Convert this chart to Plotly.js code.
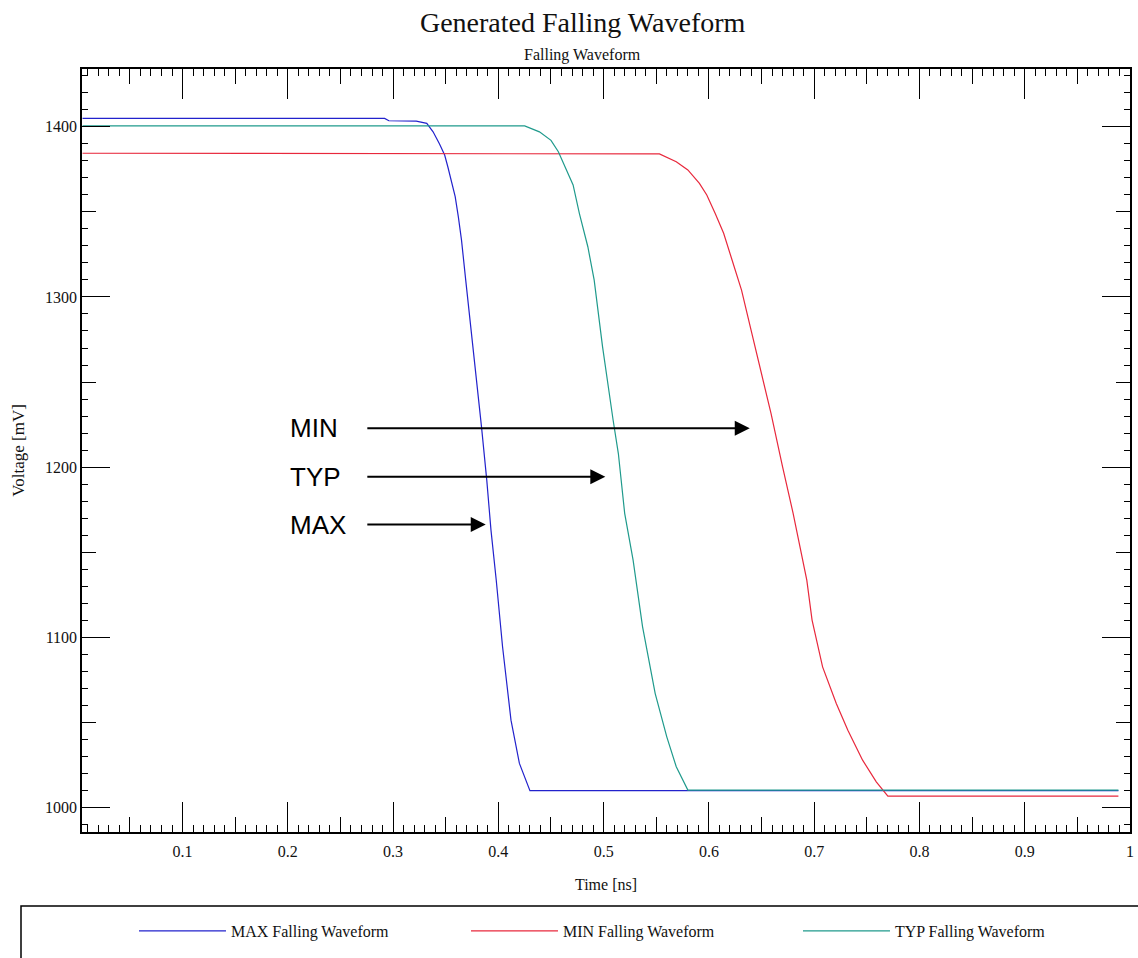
<!DOCTYPE html>
<html>
<head>
<meta charset="utf-8">
<script src="https://cdn.plot.ly/plotly-3.0.1.min.js"></script>
<style>html,body{margin:0;padding:0;background:#fff;}#chart{width:1138px;height:958px;}</style>
</head>
<body>
<div id="chart"></div>
<script>
// Time [ns] and Voltage [mV]
const maxTime = [0.005, 0.292, 0.296, 0.322, 0.332, 0.338, 0.344, 0.349, 0.352, 0.355, 0.359, 0.362, 0.365, 0.369, 0.376, 0.384, 0.389, 0.393, 0.398, 0.404, 0.412, 0.420, 0.430, 0.989];
const maxVolt = [1404.9, 1404.9, 1403.5, 1403.3, 1402, 1397, 1390, 1383.4, 1376.5, 1368.7, 1358.9, 1347, 1333.4, 1309.9, 1270.7, 1223.7, 1192.4, 1163, 1133.6, 1094.5, 1051.4, 1026, 1010, 1010];

const minTime = [0.005, 0.544, 0.553, 0.569, 0.580, 0.591, 0.598, 0.606, 0.614, 0.622, 0.631, 0.640, 0.650, 0.659, 0.670, 0.680, 0.693, 0.698, 0.708, 0.721, 0.732, 0.746, 0.759, 0.770, 0.989];
const minVolt = [1384.4, 1384.4, 1384, 1379.4, 1374.6, 1366.7, 1359.9, 1349, 1337.4, 1321.7, 1304, 1280.6, 1255, 1231.6, 1200.2, 1172.9, 1133.7, 1110.2, 1082.7, 1061.2, 1045.5, 1027.9, 1015.2, 1006.8, 1006.8];

const typTime = [0.005, 0.425, 0.439, 0.450, 0.457, 0.465, 0.471, 0.477, 0.485, 0.491, 0.499, 0.509, 0.514, 0.520, 0.528, 0.537, 0.549, 0.560, 0.569, 0.580, 0.989];
const typVolt = [1400.5, 1400.5, 1397, 1392, 1385.3, 1374.6, 1365.8, 1349, 1329.5, 1310, 1270.7, 1227.7, 1208, 1172.9, 1145.4, 1106.2, 1067, 1041.6, 1024, 1010.3, 1010.3];

const seriesNames = ['MAX Falling Waveform', 'MIN Falling Waveform', 'TYP Falling Waveform'];
const seriesColors = ['#2222cc', '#e8283c', '#1f9a8c'];

// Annotation labels with arrows
const markLabels = ['MIN', 'TYP', 'MAX'];
const markY = [1222.9, 1194.4, 1166.3];
const markTipX = [0.6388, 0.5016, 0.3880];
const markTailX = 0.2741;
const markTextX = 0.2005;

const serif = 'Liberation Serif, Times New Roman, serif';

const traces = [
  {x: maxTime, y: maxVolt, name: seriesNames[0]},
  {x: minTime, y: minVolt, name: seriesNames[1]},
  {x: typTime, y: typVolt, name: seriesNames[2]}
].map((t, i) => Object.assign(t, {
  type: 'scatter', mode: 'lines',
  line: {color: seriesColors[i], width: 1.2},
  hoverinfo: 'x+y+name'
}));

const annotations = [];
markLabels.forEach((lab, i) => {
  annotations.push({
    xref: 'x', yref: 'y', x: markTextX, y: markY[i],
    text: lab, showarrow: false, xanchor: 'left', yanchor: 'middle',
    font: {family: 'Liberation Sans, Arial, sans-serif', size: 26, color: '#000'}
  });
  annotations.push({
    xref: 'x', yref: 'y', axref: 'x', ayref: 'y',
    x: markTipX[i], y: markY[i], ax: markTailX, ay: markY[i],
    text: '', showarrow: true, arrowhead: 2, arrowsize: 1.5, arrowwidth: 2,
    arrowcolor: '#000', standoff: 0
  });
});
annotations.push({
  xref: 'paper', yref: 'paper', x: 0.478, y: 1.0 + 14/763, yanchor: 'middle', xanchor: 'center',
  text: 'Falling Waveform', showarrow: false,
  font: {family: serif, size: 16, color: '#111'}
});

const xRange = [0.0045, 1.00001];
const yRange = [985.7, 1433.9];

const layout = {
  width: 1138, height: 958,
  margin: {l: 82, r: 8, t: 69, b: 126},
  paper_bgcolor: '#fff', plot_bgcolor: '#fff',
  title: {
    text: 'Generated Falling Waveform',
    font: {family: serif, size: 28, color: '#111'},
    xref: 'container', yref: 'container', x: 0.512, xanchor: 'center',
    y: 1 - 22/958, yanchor: 'middle'
  },
  showlegend: true,
  legend: {
    orientation: 'h', x: 0.0496, xanchor: 'left', y: (832 - 931) / 763, yanchor: 'middle',
    bgcolor: 'rgba(0,0,0,0)', borderwidth: 0,
    font: {family: serif, size: 16, color: '#111'},
    itemwidth: 87, entrywidth: 230, entrywidthmode: 'pixels',
    itemclick: false, itemdoubleclick: false
  },
  xaxis: {
    range: xRange, showgrid: false, zeroline: false,
    showline: true, linecolor: '#000', linewidth: 1.5, mirror: 'ticks',
    ticks: 'inside', ticklen: 30, tickwidth: 1.2, tickcolor: '#000',
    tick0: 0, dtick: 0.1, ticklabelstandoff: 4,
    tickfont: {family: serif, size: 16, color: '#111'},
    minor: {ticks: 'inside', dtick: 0.01, tick0: 0, ticklen: 7, tickwidth: 1.2, tickcolor: '#000', showgrid: false},
    title: {text: 'Time [ns]', font: {family: serif, size: 16, color: '#111'}, standoff: 20},
    fixedrange: true
  },
  xaxis2: {
    overlaying: 'x', anchor: 'y', side: 'bottom', range: xRange,
    showgrid: false, zeroline: false, showticklabels: false, showline: false,
    mirror: 'ticks', ticks: 'inside', ticklen: 15, tickwidth: 1.2, tickcolor: '#000',
    tick0: 0, dtick: 0.05, fixedrange: true
  },
  yaxis: {
    range: yRange, showgrid: false, zeroline: false,
    showline: true, linecolor: '#000', linewidth: 1.5, mirror: 'ticks',
    ticks: 'inside', ticklen: 28, tickwidth: 1.2, tickcolor: '#000',
    tick0: 0, dtick: 100,
    tickfont: {family: serif, size: 16, color: '#111'},
    minor: {ticks: 'inside', dtick: 10, tick0: 0, ticklen: 6, tickwidth: 1.2, tickcolor: '#000', showgrid: false},
    title: {text: 'Voltage [mV]', font: {family: serif, size: 17, color: '#111'}, standoff: 16},
    fixedrange: true
  },
  yaxis2: {
    overlaying: 'y', anchor: 'x', side: 'left', range: yRange,
    showgrid: false, zeroline: false, showticklabels: false, showline: false,
    mirror: 'ticks', ticks: 'inside', ticklen: 14, tickwidth: 1.2, tickcolor: '#000',
    tick0: 0, dtick: 50, fixedrange: true
  },
  annotations: annotations,
  shapes: [{
    type: 'rect', xref: 'paper', yref: 'paper', layer: 'below',
    x0: (21 - 82) / 1048, x1: (1160 - 82) / 1048,
    y0: (832 - 906) / 763, y1: (832 - 980) / 763,
    line: {color: '#000', width: 1.5}, fillcolor: 'rgba(0,0,0,0)'
  }]
};

// empty trace so the overlay axes (medium ticks) are drawn
traces.push({x: [], y: [], xaxis: 'x2', yaxis: 'y2', type: 'scatter', mode: 'lines', showlegend: false, hoverinfo: 'skip'});

Plotly.newPlot('chart', traces, layout, {displayModeBar: false});
</script>
</body>
</html>
